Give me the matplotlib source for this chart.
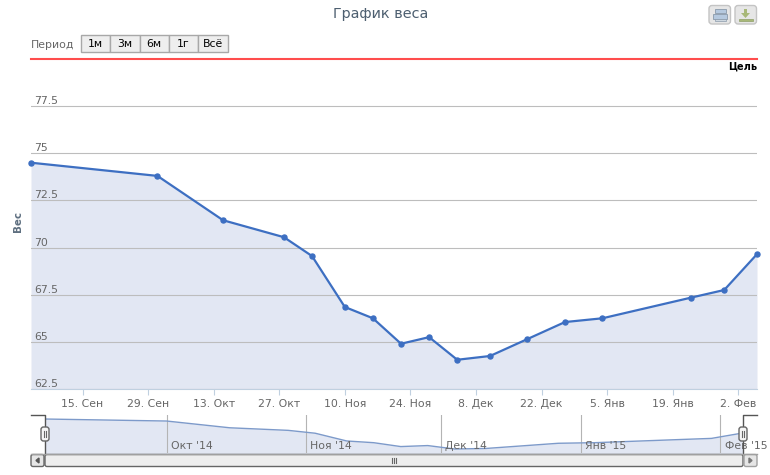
import matplotlib
matplotlib.use('Agg')
import matplotlib.pyplot as plt
import matplotlib.dates as mdates
import pandas as pd
from matplotlib.patches import Rectangle, FancyBboxPatch

dates = ['2014-09-04', '2014-10-01', '2014-10-15', '2014-10-28', '2014-11-03', '2014-11-10',
         '2014-11-16', '2014-11-22', '2014-11-28', '2014-12-04', '2014-12-11', '2014-12-19',
         '2014-12-27', '2015-01-04', '2015-01-23', '2015-01-30', '2015-02-06']
weight = [74.5, 73.8, 71.45, 70.55, 69.55, 66.85, 66.25, 64.9, 65.25, 64.05, 64.25, 65.15,
          66.05, 66.25, 67.35, 67.75, 69.65]
goal = 80
ytick_values = [62.5, 65, 67.5, 70, 72.5, 75, 77.5]
ytick_labels = ['62.5', '65', '67.5', '70', '72.5', '75', '77.5']
xtick_dates = ['2014-09-15', '2014-09-29', '2014-10-13', '2014-10-27', '2014-11-10', '2014-11-24',
               '2014-12-08', '2014-12-22', '2015-01-05', '2015-01-19', '2015-02-02']
xtick_labels = ['15. Сен', '29. Сен', '13. Окт', '27. Окт', '10. Ноя', '24. Ноя',
                '8. Дек', '22. Дек', '5. Янв', '19. Янв', '2. Фев']
month_dates = ['2014-10-01', '2014-11-01', '2014-12-01', '2015-01-01', '2015-02-01']
month_labels = ["Окт '14", "Ноя '14", "Дек '14", "Янв '15", "Фев '15"]
periods = ['1м', '3м', '6м', '1г', 'Всё']

plt.rcParams['font.family'] = ['DejaVu Sans']
W, H = 770, 475
BLUE = '#3d6fc2'
FILL = '#e2e7f3'
GREY = '#666666'

x = pd.to_datetime(dates)
x_start, x_end = x[0], x[-1]


def box(left, top, right, bottom):
    return [left / W, 1 - bottom / H, (right - left) / W, (bottom - top) / H]


fig = plt.figure(figsize=(W / 100, H / 100), dpi=100)

# main chart
ax = fig.add_axes(box(31, 59, 757, 389))
ax.fill_between(x, weight, 62.5, color=FILL, linewidth=0, zorder=1)
ax.set_yticks(ytick_values)
ax.yaxis.grid(True, color='#bdbdbd', linewidth=0.8)
ax.set_axisbelow(False)
ax.plot(x, weight, color=BLUE, linewidth=1.6, marker='o', markersize=3.6, zorder=4, clip_on=False)
ax.axhline(goal, color='#ff4d4d', linewidth=1.5, zorder=5, clip_on=False)
ax.set_xlim(x_start, x_end)
ax.set_ylim(62.5, goal)
ax.set_yticklabels([])
ax.tick_params(axis='y', length=0)
ax.set_xticks(pd.to_datetime(xtick_dates))
ax.set_xticklabels(xtick_labels, fontsize=7.8, color=GREY)
ax.tick_params(axis='x', length=4, color='#c0d0e0', pad=3)
for s in ['top', 'left', 'right']:
    ax.spines[s].set_visible(False)
ax.spines['bottom'].set_color('#c0d0e0')
for v, lab in zip(ytick_values, ytick_labels):
    ax.annotate(lab, (0, v), xycoords=ax.get_yaxis_transform(), xytext=(2.2, 0),
                textcoords='offset points', fontsize=7.8, color=GREY, va='bottom', ha='left', zorder=6)
ax.annotate('Цель', (1, goal), xycoords=ax.get_yaxis_transform(), xytext=(0, -2),
            textcoords='offset points', fontsize=7, fontweight='bold', color='black',
            va='top', ha='right')

# navigator
nav = fig.add_axes(box(45, 415, 743, 453))
nav.fill_between(x, weight, 60.5, color=FILL, linewidth=0)
nav.plot(x, weight, color='#7d9aca', linewidth=1)
nav.set_xlim(x_start, x_end)
nav.set_ylim(62.66, 75.9)
nav.set_yticks([])
nav.set_xticks(pd.to_datetime(month_dates))
nav.set_xticklabels([])
nav.xaxis.grid(True, color='#b4b4b4', linewidth=0.8)
nav.tick_params(axis='x', length=0)
for s in nav.spines.values():
    s.set_visible(False)
for d, lab in zip(month_dates, month_labels):
    nav.annotate(lab, (mdates.date2num(pd.Timestamp(d)), 0), xycoords=nav.get_xaxis_transform(),
                 xytext=(3, 1.5), textcoords='offset points', fontsize=7.8, color=GREY,
                 va='bottom', ha='left', annotation_clip=False)

# page furniture drawn in pixel coordinates
ui = fig.add_axes([0, 0, 1, 1], facecolor='none')
ui.set_xlim(0, W)
ui.set_ylim(H, 0)
ui.axis('off')

ui.text(380.5, 14, 'График веса', fontsize=10.4, color='#4d5f70', ha='center', va='center')
ui.text(31, 45, 'Период', fontsize=7.8, color='#666666', ha='left', va='center')
ui.text(18, 222, 'Вес', fontsize=7.4, fontweight='bold', color='#5e6f80', rotation=90,
        ha='center', va='center')

for i, p in enumerate(periods):
    left = 81 + i * 29.3
    ui.add_patch(Rectangle((left, 34.5), 29.3, 17.5, facecolor='#eeeeee', edgecolor='#a8a8a8', linewidth=1))
    ui.text(left + 14.6, 44, p, fontsize=7.8, color='black', ha='center', va='center')

for left in (709, 735):
    ui.add_patch(FancyBboxPatch((left, 5.5), 21.5, 18.5, boxstyle='round,pad=0,rounding_size=3',
                                facecolor='#e6e6e6', edgecolor='#c4c4c4', linewidth=1))
# print icon
ui.add_patch(Rectangle((714.5, 9), 11, 4, facecolor='#b5c9df', edgecolor='#8a9aaa', linewidth=0.6))
ui.add_patch(Rectangle((713, 13.5), 14, 5, facecolor='#b5c9df', edgecolor='#8a9aaa', linewidth=0.6))
ui.add_patch(Rectangle((714.5, 18.5), 11, 2, facecolor='#cfd8e0', edgecolor='#8a9aaa', linewidth=0.5))
# export icon
ui.add_patch(Rectangle((744, 9), 3, 5, facecolor='#a8b878', edgecolor='none'))
ui.fill([741, 750, 745.5], [13, 13, 18], facecolor='#a8b878', edgecolor='none')
ui.add_patch(Rectangle((739, 18.5), 14, 2.5, facecolor='#a8b878', edgecolor='#8f9f68', linewidth=0.5))

# navigator mask outline
ui.plot([31, 45, 45], [415, 415, 453], color='#555555', linewidth=1)
ui.plot([743, 743, 757], [453, 415, 415], color='#555555', linewidth=1)
for cx in (45, 743):
    ui.add_patch(FancyBboxPatch((cx - 4, 427), 8, 14, boxstyle='round,pad=0,rounding_size=2.5',
                                facecolor='#f5f5f5', edgecolor='#666666', linewidth=1, zorder=5))
    for dx in (-1, 1):
        ui.plot([cx + dx, cx + dx], [431, 437], color='#666666', linewidth=0.8, zorder=6)

# scrollbar
ui.plot([31, 757], [453.5, 453.5], color='#a0a0a0', linewidth=1)
ui.add_patch(FancyBboxPatch((45, 454.5), 698, 12, boxstyle='round,pad=0,rounding_size=2',
                            facecolor='#eeeeee', edgecolor='#666666', linewidth=1))
ui.add_patch(FancyBboxPatch((31, 454.5), 13, 12, boxstyle='round,pad=0,rounding_size=2',
                            facecolor='#e6e6e6', edgecolor='#666666', linewidth=1))
ui.add_patch(FancyBboxPatch((744, 454.5), 13, 12, boxstyle='round,pad=0,rounding_size=2',
                            facecolor='#e6e6e6', edgecolor='#a0a0a0', linewidth=1))
ui.fill([39, 39, 36], [458, 463, 460.5], color='#555555')
ui.fill([749, 749, 752], [458, 463, 460.5], color='#777777')
for dx in (-2, 0, 2):
    ui.plot([394 + dx, 394 + dx], [458, 463], color='#666666', linewidth=0.8)

fig.savefig('out.png', dpi=100)
